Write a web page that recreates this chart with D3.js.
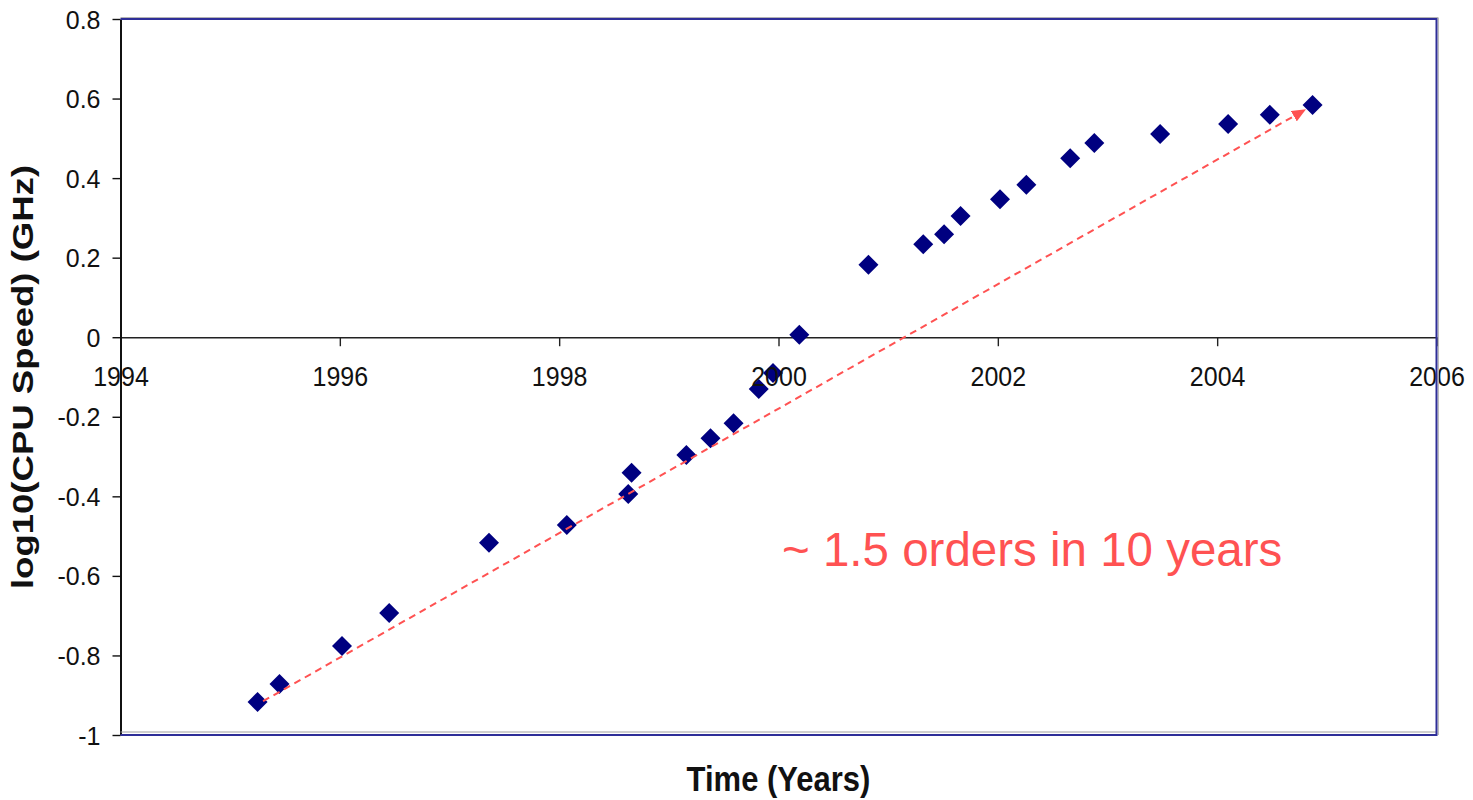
<!DOCTYPE html>
<html>
<head>
<meta charset="utf-8">
<script src="https://cdn.jsdelivr.net/npm/d3@7"></script>
<style>
  html, body { margin: 0; padding: 0; background: #fff; }
  svg { display: block; }
  text { font-family: "Liberation Sans", Arial, sans-serif; }
</style>
</head>
<body>
<svg id="chart" width="1473" height="800"></svg>
<script>
// CPU clock speed over time (log10 of GHz)
const years = [1995.25, 1995.45, 1996.02, 1996.45, 1997.36, 1998.07, 1998.63, 1998.66,
               1999.16, 1999.38, 1999.59, 1999.82, 1999.95, 2000.19, 2000.82, 2001.32,
               2001.51, 2001.66, 2002.02, 2002.26, 2002.66, 2002.88, 2003.48, 2004.10,
               2004.48, 2004.87];
const logSpeed = [-0.917, -0.872, -0.776, -0.693, -0.517, -0.472, -0.394, -0.341,
                  -0.296, -0.254, -0.216, -0.130, -0.090, 0.006, 0.182, 0.234,
                  0.259, 0.305, 0.347, 0.383, 0.450, 0.488, 0.511, 0.536,
                  0.559, 0.584];

const xTicks = [1994, 1996, 1998, 2000, 2002, 2004, 2006];
const xTickLabels = ["1994", "1996", "1998", "2000", "2002", "2004", "2006"];
const yTicks = [0.8, 0.6, 0.4, 0.2, 0, -0.2, -0.4, -0.6, -0.8, -1];
const yTickLabels = ["0.8", "0.6", "0.4", "0.2", "0", "-0.2", "-0.4", "-0.6", "-0.8", "-1"];

// Trend arrow: start and end in data units
const trendStart = [1995.30, -0.915];
const trendEnd = [2004.81, 0.573];
const trendNote = "~ 1.5 orders in 10 years";

const xTitle = "Time (Years)";
const yTitle = "log10(CPU Speed) (GHz)";

const svg = d3.select("#chart");
const plot = { left: 120.5, right: 1436.5, top: 19, bottom: 735 };

const x = d3.scaleLinear().domain([1994, 2006]).range([plot.left, plot.right]);
const y = d3.scaleLinear().domain([-1, 0.8]).range([plot.bottom, plot.top]);

const navy = "#000080";
const frameBlue = "#2e2e98";
const red = "#ff5252";
const stretch = 1.12;

// arrow head
svg.append("defs").append("marker")
  .attr("id", "arrowHead")
  .attr("viewBox", "0 0 14 12")
  .attr("refX", 14).attr("refY", 6)
  .attr("markerWidth", 14).attr("markerHeight", 12)
  .attr("markerUnits", "userSpaceOnUse")
  .attr("orient", "auto")
  .append("path").attr("d", "M0,0 L14,6 L0,12 Z").attr("fill", red);

// plot frame: grey shadow line plus blue border
const frame = svg.append("g");
frame.append("line").attr("x1", plot.left).attr("x2", plot.right + 1.5)
  .attr("y1", plot.top - 1.5).attr("y2", plot.top - 1.5)
  .attr("stroke", "#b4b4b4").attr("stroke-width", 1.2);
frame.append("line").attr("x1", plot.right + 1.8).attr("x2", plot.right + 1.8)
  .attr("y1", plot.top - 1.5).attr("y2", plot.bottom)
  .attr("stroke", "#b4b4b4").attr("stroke-width", 1.2);
frame.append("line").attr("x1", plot.left).attr("x2", plot.right)
  .attr("y1", plot.bottom - 3).attr("y2", plot.bottom - 3)
  .attr("stroke", "#a0a0a0").attr("stroke-width", 1.2);

// x axis lines at y = 0
const xAxisLines = svg.append("g")
  .attr("transform", `translate(0,${y(0)})`)
  .call(d3.axisBottom(x).tickValues(xTicks).tickSize(9).tickSizeOuter(0).tickFormat(""));
xAxisLines.select(".domain").attr("stroke", "#222").attr("stroke-width", 1.6);
xAxisLines.selectAll(".tick line").attr("stroke", "#222").attr("stroke-width", 1.4);

// data points as diamonds
const diamond = d3.symbol().type(d3.symbolSquare).size(200);
svg.append("g").selectAll("path")
  .data(years.map((yr, i) => [yr, logSpeed[i]]))
  .join("path")
  .attr("d", diamond)
  .attr("transform", d => `translate(${x(d[0])},${y(d[1])}) rotate(45)`)
  .attr("fill", navy);

// dashed trend arrow
svg.append("line")
  .attr("x1", x(trendStart[0])).attr("y1", y(trendStart[1]))
  .attr("x2", x(trendEnd[0])).attr("y2", y(trendEnd[1]))
  .attr("stroke", red).attr("stroke-width", 2)
  .attr("stroke-dasharray", "7,5")
  .attr("marker-end", "url(#arrowHead)");

// x tick labels
const xAxisText = svg.append("g")
  .attr("transform", `translate(0,${y(0)})`)
  .call(d3.axisBottom(x).tickValues(xTicks).tickSize(0).tickSizeOuter(0)
    .tickFormat((d, i) => xTickLabels[i]));
xAxisText.select(".domain").remove();
xAxisText.selectAll(".tick line").remove();
xAxisText.selectAll(".tick text")
  .attr("y", 49 / stretch).attr("dy", 0)
  .attr("transform", `scale(1,${stretch})`)
  .attr("font-size", 25).attr("fill", "#111")
  .style("font-family", '"Liberation Sans", Arial, sans-serif');

// y axis
const yAxis = svg.append("g")
  .attr("transform", `translate(${plot.left},0)`)
  .call(d3.axisLeft(y).tickValues(yTicks).tickSize(8).tickSizeOuter(0)
    .tickFormat((d, i) => yTickLabels[i]));
yAxis.select(".domain").attr("stroke", "#111").attr("stroke-width", 2);
yAxis.selectAll(".tick line").attr("stroke", "#111").attr("stroke-width", 1.4);
yAxis.selectAll(".tick text")
  .attr("x", -20).attr("dy", "0.36em")
  .attr("font-size", 25).attr("fill", "#111")
  .style("font-family", '"Liberation Sans", Arial, sans-serif');

// blue border (top, right, bottom)
frame.raise();
svg.append("path")
  .attr("d", `M${plot.left},${plot.top} H${plot.right} V${plot.bottom} H${plot.left}`)
  .attr("fill", "none").attr("stroke", frameBlue).attr("stroke-width", 2);

// annotation
svg.append("text")
  .attr("x", 782).attr("y", 566)
  .attr("font-size", 47.5).attr("fill", red)
  .text(trendNote);

// axis titles
svg.append("text")
  .attr("transform", `translate(${(plot.left + plot.right) / 2},791) scale(1,${stretch})`)
  .attr("text-anchor", "middle")
  .attr("font-size", 31).attr("font-weight", "bold").attr("fill", "#111")
  .text(xTitle);

svg.append("text")
  .attr("transform", `translate(33,${(plot.top + plot.bottom) / 2}) scale(1,1.26) rotate(-90)`)
  .attr("text-anchor", "middle")
  .attr("font-size", 29).attr("font-weight", "bold").attr("fill", "#111")
  .text(yTitle);
</script>
</body>
</html>
